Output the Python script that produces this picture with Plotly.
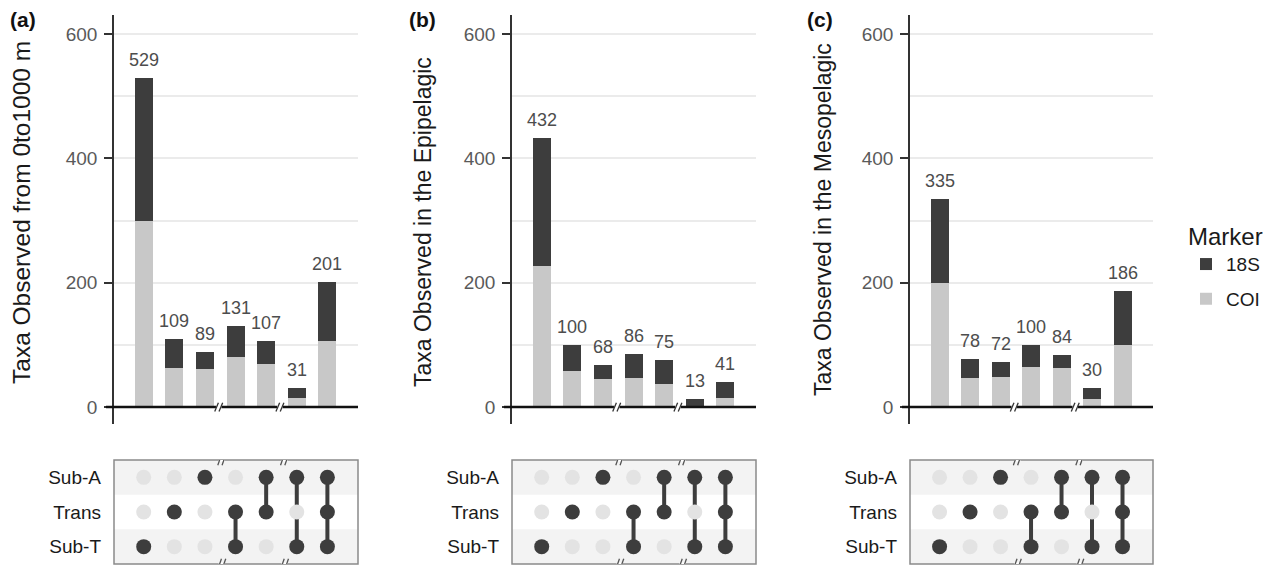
import plotly.graph_objects as go

# ---------------- data ----------------
panels = ["(a)", "(b)", "(c)"]
y_titles = ["Taxa Observed from 0to1000 m",
            "Taxa Observed in the Epipelagic",
            "Taxa Observed in the Mesopelagic"]
intersections = ["Sub-T", "Trans", "Sub-A", "Trans&Sub-T", "Sub-A&Trans", "Sub-A&Sub-T", "All"]
totals_a = [529, 109, 89, 131, 107, 31, 201]
coi_a = [300, 62, 61, 81, 70, 14, 107]
totals_b = [432, 100, 68, 86, 75, 13, 41]
coi_b = [227, 58, 45, 47, 37, 0, 14]
totals_c = [335, 78, 72, 100, 84, 30, 186]
coi_c = [200, 46, 49, 64, 63, 13, 100]
set_names = ["Sub-T", "Trans", "Sub-A"]          # bottom -> top rows
membership = [                                   # per intersection: sets included
    ["Sub-T"],
    ["Trans"],
    ["Sub-A"],
    ["Trans", "Sub-T"],
    ["Sub-A", "Trans"],
    ["Sub-A", "Sub-T"],
    ["Sub-A", "Trans", "Sub-T"],
]
y_ticks = [0, 200, 400, 600]

totals_all = [totals_a, totals_b, totals_c]
coi_all = [coi_a, coi_b, coi_c]

# ---------------- style ----------------
PAGE_OFF = 8            # default body margin of the html page
W, H = 1261, 558        # figure size (page 1277x566 minus body margin)
FONT = "Liberation Sans, Arial, sans-serif"
DARK = "#3d3d3d"
LIGHT = "#c8c8c8"
DOT_OFF = "#e3e3e3"
left_px = [114, 512, 910]
right_px = [358, 756, 1153]
title_x = [22, 423, 823]
title_y = [213, 222, 220]
title_size = [24.5, 23, 23]
label_x = [8, 407, 805]
XR = [-0.97, 7.0]
YR = [-27.3, 630.6]


def px(x):
    return (x - PAGE_OFF) / W


def py(y):
    return 1 - (y - PAGE_OFF) / H


fig = go.Figure()
layout = dict(
    width=W, height=H, margin=dict(l=0, r=0, t=0, b=0),
    plot_bgcolor="white", paper_bgcolor="white",
    font=dict(family=FONT),
    barmode="stack", bargap=0.41,
    showlegend=True,
    legend=dict(
        x=px(1186), y=py(214), xanchor="left", yanchor="top",
        title=dict(text="Marker", font=dict(size=24, color="#1a1a1a")),
        font=dict(size=19, color="#1a1a1a"),
        tracegroupgap=7, bgcolor="rgba(0,0,0,0)",
    ),
)
shapes = []
annotations = []
xcats = list(range(len(intersections)))

for i in range(3):
    bx = "x" if i == 0 else f"x{i + 1}"
    by = "y" if i == 0 else f"y{i + 1}"
    mx = f"x{i + 4}"
    my = f"y{i + 4}"
    tot = totals_all[i]
    coi = coi_all[i]
    s18 = [t - c for t, c in zip(tot, coi)]

    fig.add_trace(go.Bar(x=xcats, y=coi, marker=dict(color=LIGHT, line=dict(width=0)),
                         name="COI", legendgroup="COI", legendrank=2, showlegend=(i == 0),
                         xaxis=bx, yaxis=by, hoverinfo="skip"))
    fig.add_trace(go.Bar(x=xcats, y=s18, marker=dict(color=DARK, line=dict(width=0)),
                         name="18S", legendgroup="18S", legendrank=1, showlegend=(i == 0),
                         xaxis=bx, yaxis=by, hoverinfo="skip"))
    for k, t in enumerate(tot):
        annotations.append(dict(x=k, y=t, xref=bx, yref=by, text=str(t), showarrow=False,
                                yanchor="bottom", yshift=6,
                                font=dict(size=18, color="#4d4d4d")))

    dom_x = [px(left_px[i]), px(right_px[i])]
    layout["xaxis" if i == 0 else f"xaxis{i + 1}"] = dict(
        domain=dom_x, range=XR, showticklabels=False, showgrid=False, zeroline=False,
        showline=False, ticks="", anchor=by)
    layout["yaxis" if i == 0 else f"yaxis{i + 1}"] = dict(
        domain=[py(424), py(15)], range=YR, tickvals=y_ticks, ticks="outside", ticklen=8,
        tickwidth=1.5, tickcolor="#333", showline=True, linecolor="#333", linewidth=1.5,
        showgrid=True, gridcolor="#ebebeb", gridwidth=1.5, zeroline=False,
        minor=dict(dtick=100, showgrid=True, gridcolor="#ebebeb", gridwidth=1.5),
        tickfont=dict(size=19, color="#5a5a5a"), ticklabelstandoff=3, anchor=bx)
    layout[f"xaxis{i + 4}"] = dict(
        domain=dom_x, range=XR, showticklabels=False, showgrid=False, zeroline=False,
        showline=False, ticks="", anchor=my)
    layout[f"yaxis{i + 4}"] = dict(
        domain=[py(564), py(460)], range=[-0.5, 2.5], tickvals=[0, 1, 2], ticktext=set_names,
        showgrid=False, zeroline=False, showline=False, ticks="",
        tickfont=dict(size=19, color="#1a1a1a"), ticklabelstandoff=12, anchor=mx)

    # baseline with break marks
    shapes.append(dict(type="line", xref=f"{bx} domain", yref=by,
                       x0=-8 / (right_px[i] - left_px[i]), x1=1, y0=0, y1=0,
                       line=dict(color="#111", width=2.5), layer="above"))
    for bk in (2.45, 4.45):
        shapes.append(dict(type="line", xref=bx, yref=by, x0=bk - 0.09, x1=bk + 0.09,
                           y0=0, y1=0, line=dict(color="white", width=4), layer="above"))
        for off in (-0.07, 0.07):
            shapes.append(dict(type="line", xref=bx, yref=by,
                               x0=bk + off - 0.06, x1=bk + off + 0.06, y0=-7, y1=7,
                               line=dict(color="#333", width=1.3), layer="above"))

    # matrix: row bands, box
    for r in (0, 2):
        shapes.append(dict(type="rect", xref=f"{mx} domain", yref=my, x0=0, x1=1,
                           y0=r - 0.5, y1=r + 0.5, fillcolor="#f3f3f3", line=dict(width=0),
                           layer="below"))
    shapes.append(dict(type="rect", xref=f"{mx} domain", yref=f"{my} domain", x0=0, x1=1,
                       y0=0, y1=1, line=dict(color="#8a8a8a", width=1.5), layer="above"))
    for bk in (2.55, 4.6):
        for yb in (-0.5, 2.5):
            shapes.append(dict(type="line", xref=mx, yref=my, x0=bk - 0.1, x1=bk + 0.1,
                               y0=yb, y1=yb, line=dict(color="white", width=3), layer="above"))
            for off in (-0.07, 0.07):
                shapes.append(dict(type="line", xref=mx, yref=my,
                                   x0=bk + off - 0.06, x1=bk + off + 0.06,
                                   y0=yb - 0.15, y1=yb + 0.15,
                                   line=dict(color="#555", width=1.3), layer="above"))

    off_x, off_y, on_x, on_y = [], [], [], []
    for k, mem in enumerate(membership):
        rows = [set_names.index(s) for s in mem]
        for r in range(3):
            if r in rows:
                on_x.append(k); on_y.append(r)
            else:
                off_x.append(k); off_y.append(r)
        if len(rows) > 1:
            fig.add_trace(go.Scatter(x=[k, k], y=[min(rows), max(rows)], mode="lines",
                                     line=dict(color=DARK, width=4), showlegend=False,
                                     xaxis=mx, yaxis=my, hoverinfo="skip"))
    fig.add_trace(go.Scatter(x=off_x, y=off_y, mode="markers",
                             marker=dict(color=DOT_OFF, size=15), showlegend=False,
                             xaxis=mx, yaxis=my, hoverinfo="skip"))
    fig.add_trace(go.Scatter(x=on_x, y=on_y, mode="markers",
                             marker=dict(color=DARK, size=15), showlegend=False,
                             xaxis=mx, yaxis=my, hoverinfo="skip"))

    annotations.append(dict(x=px(title_x[i]), y=py(title_y[i]), xref="paper", yref="paper",
                            text=y_titles[i], textangle=-90, showarrow=False,
                            xanchor="center", yanchor="middle",
                            font=dict(size=title_size[i], color="#1a1a1a")))
    annotations.append(dict(x=px(label_x[i]), y=py(19), xref="paper", yref="paper",
                            text="<b>" + panels[i] + "</b>", showarrow=False,
                            xanchor="left", yanchor="middle",
                            font=dict(size=21, color="#111")))

layout["shapes"] = shapes
layout["annotations"] = annotations
fig.update_layout(**layout)
fig.write_html("out.html")
